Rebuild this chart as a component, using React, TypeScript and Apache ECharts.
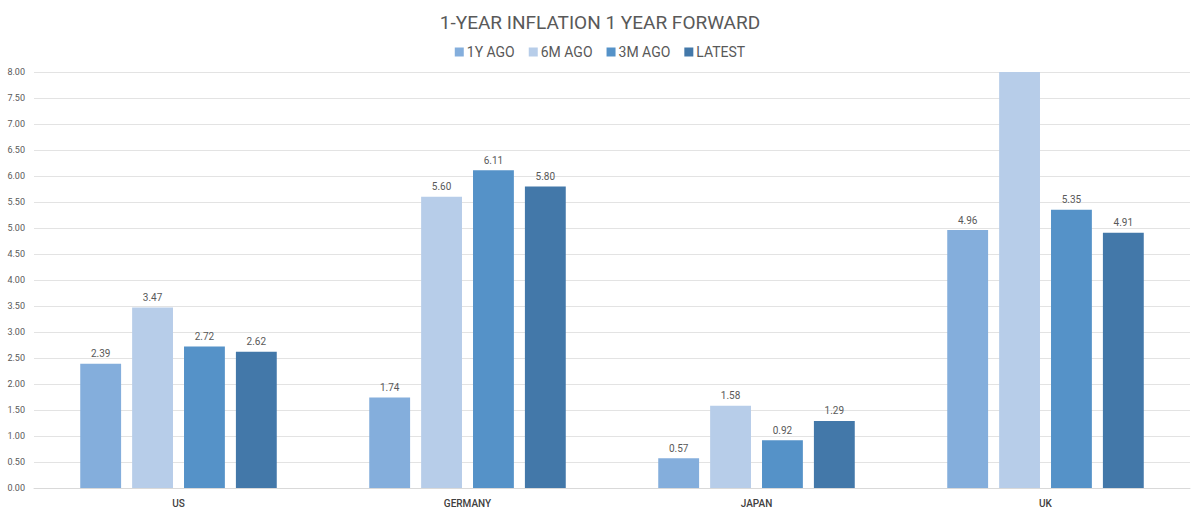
import React, { useEffect, useRef } from "react";
import * as echarts from "echarts";

const categories = ["US", "GERMANY", "JAPAN", "UK"];
const seriesNames = ["1Y AGO", "6M AGO", "3M AGO", "LATEST"];
const oneYearAgo = [2.39, 1.74, 0.57, 4.96];
const sixMonthsAgo = [3.47, 5.6, 1.58, 8.5];
const threeMonthsAgo = [2.72, 6.11, 0.92, 5.35];
const latest = [2.62, 5.8, 1.29, 4.91];
const colors = ["#84AEDC", "#B7CDE9", "#5592C8", "#4378A9"];
const yMin = 0;
const yMax = 8;
const yInterval = 0.5;

export default function App() {
  const ref = useRef<HTMLDivElement>(null);
  useEffect(() => {
    document.body.style.margin = "0";
    if (!ref.current) return;
    const chart = echarts.init(ref.current, undefined, { renderer: "svg" });
    const allData = [oneYearAgo, sixMonthsAgo, threeMonthsAgo, latest];
    const font = "Roboto, 'Noto Sans', sans-serif";
    chart.setOption({
      animation: false,
      textStyle: { fontFamily: font },
      title: {
        text: "1-YEAR INFLATION 1 YEAR FORWARD",
        left: "center",
        top: 8,
        textStyle: { fontSize: 19, fontWeight: "normal", color: "#595959", fontFamily: font },
      },
      legend: {
        top: 40,
        left: "center",
        itemWidth: 9,
        itemHeight: 9,
        itemGap: 14,
        icon: "rect",
        textStyle: { fontSize: 14, color: "#595959", padding: [0, 0, 0, -2] },
        data: seriesNames,
      },
      grid: { left: 34, right: 10, top: 72, bottom: 26, containLabel: false },
      xAxis: {
        type: "category",
        data: categories,
        axisTick: { show: false },
        axisLine: { lineStyle: { color: "#D9D9D9" } },
        axisLabel: { color: "#404040", fontSize: 10, fontWeight: 500, margin: 10 },
      },
      yAxis: {
        type: "value",
        min: yMin,
        max: yMax,
        interval: yInterval,
        axisLine: { show: false },
        axisTick: { show: false },
        splitLine: { lineStyle: { color: "#E3E3E3" } },
        axisLabel: {
          color: "#595959",
          fontSize: 9,
          margin: 9,
          formatter: (v: number) => v.toFixed(2),
        },
      },
      series: seriesNames.map((name, i) => ({
        name,
        type: "bar",
        barGap: "27%",
        barCategoryGap: "32%",
        clip: true,
        itemStyle: { color: colors[i] },
        label: {
          show: true,
          position: "top",
          distance: 5,
          fontSize: 10,
          color: "#595959",
          formatter: (p: any) => (p.value > yMax ? "" : p.value.toFixed(2)),
        },
        data: allData[i],
      })),
    });
    return () => chart.dispose();
  }, []);
  return <div ref={ref} style={{ width: 1200, height: 514 }} />;
}
